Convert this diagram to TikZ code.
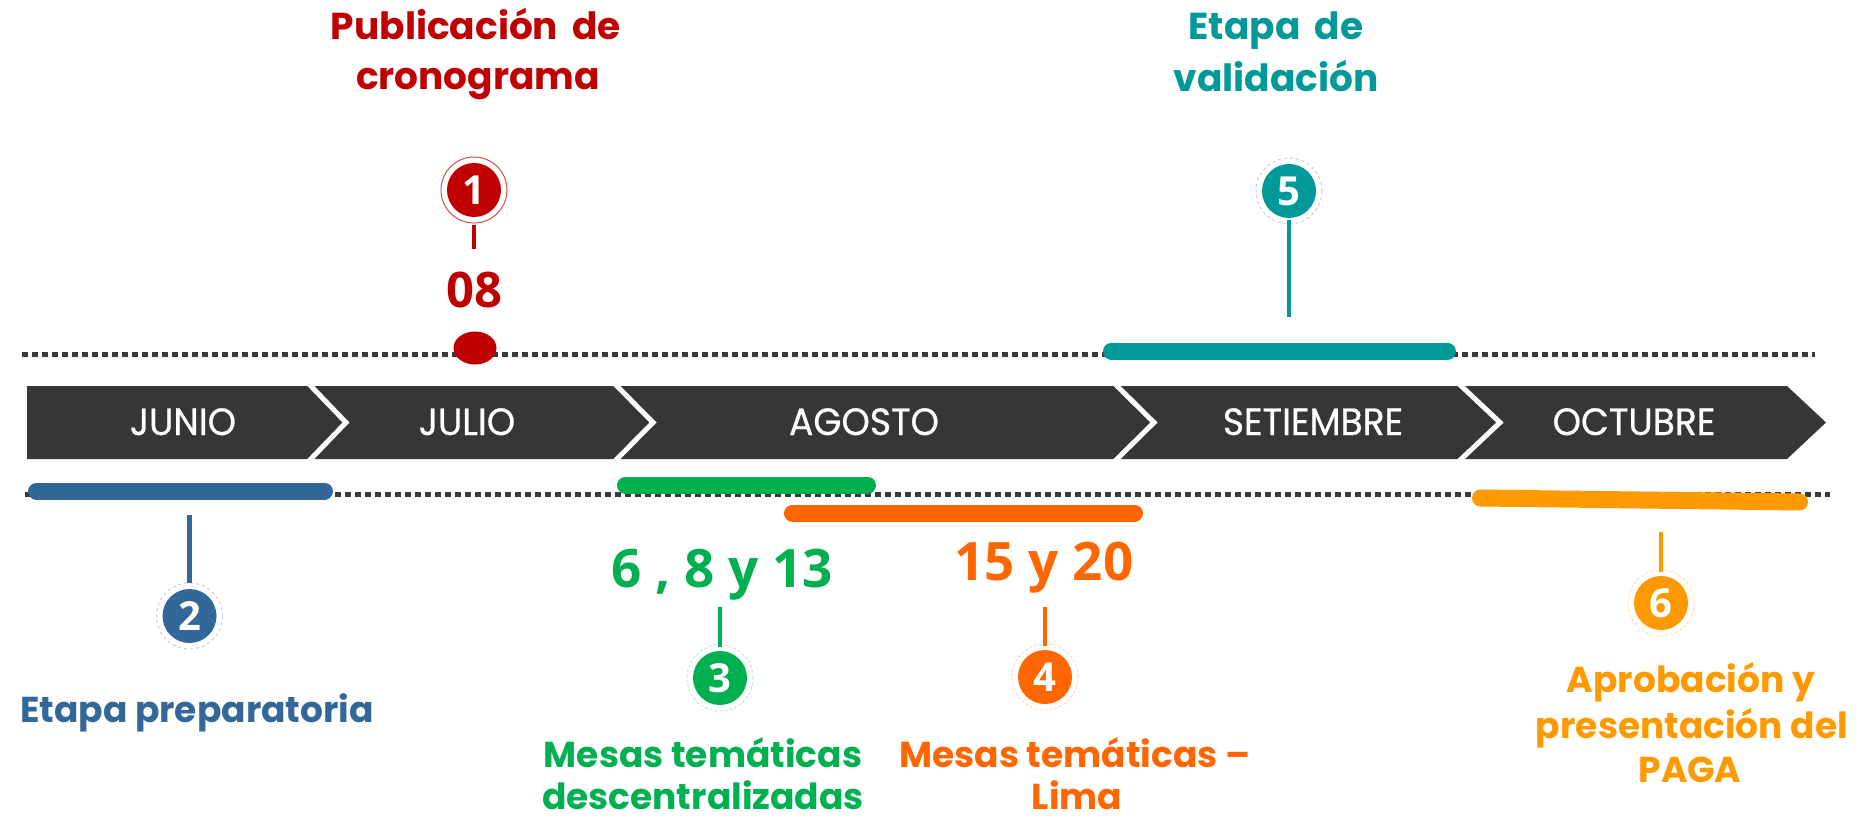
\documentclass[tikz,border=0pt]{standalone}
\usepackage{fontspec}
\setmainfont{Poppins}
\newfontfamily\numfont{Open Sans}
\newfontfamily\topfont[WordSpace=1.8]{Poppins}
\newfontfamily\monfont[FakeStretch=0.95,FakeBold=0.6]{Poppins}
\usetikzlibrary{shapes.geometric}
\definecolor{redC}{HTML}{C00000}
\definecolor{blueC}{HTML}{336699}
\definecolor{greenC}{HTML}{00B050}
\definecolor{orangeC}{HTML}{FF6600}
\definecolor{goldC}{HTML}{FF9900}
\definecolor{tealC}{HTML}{009999}
\definecolor{bandC}{HTML}{363638}
\definecolor{dotC}{HTML}{3A3A3A}
\tikzset{
  lab/.style={anchor=base, inner sep=0pt, font=\bfseries\fontsize{36}{40}\selectfont},
  toplab/.style={anchor=base, inner sep=0pt, font=\topfont\bfseries\fontsize{37.5}{40}\selectfont},
  num/.style={anchor=base, inner sep=0pt, font=\numfont\bfseries\fontsize{53}{53}\selectfont},
  mon/.style={anchor=base, inner sep=0pt, text=white, font=\monfont\fontsize{38}{38}\selectfont},
  numcirc/.style={circle, minimum size=54pt, inner sep=0pt, text=white, font=\numfont\bfseries\fontsize{40}{40}\selectfont},
  ring/.style={line width=1pt},
  conn/.style={line width=4.5pt},
  bar/.style={line width=17pt, line cap=round},
  dotline/.style={line width=5pt, dotC, dash pattern=on 6pt off 4pt},
  sepline/.style={white, line width=5pt, miter limit=10}
}
\begin{document}
\begin{tikzpicture}[x=1pt,y=-1pt]
\useasboundingbox (0,0) rectangle (1860,818);
% dotted guide lines
\coordinate (dA) at (22,354);
\coordinate (dB) at (1815,354);
\coordinate (dC) at (25,494);
\coordinate (dD) at (1830,494);
\draw[dotline] (dA) -- (dB);
\draw[dotline] (dC) -- (dD);
% month band
\fill[bandC] (27,386) -- (1787,386) -- (1826,422.5) -- (1787,459) -- (27,459) -- cycle;
\draw[sepline] (307,382) -- (346,422.5) -- (307,463);
\draw[sepline] (613,382) -- (653,422.5) -- (613,463);
\draw[sepline] (1113,382) -- (1154,422.5) -- (1113,463);
\draw[sepline] (1457,382) -- (1500,422.5) -- (1457,463);
\node[mon] (m1) at (183,435) {JUNIO};
\node[mon] (m2) at (467,435) {JULIO};
\node[mon] (m3) at (864,435) {AGOSTO};
\node[mon] (m4) at (1313,435) {SETIEMBRE};
\node[mon] (m5) at (1634,435) {OCTUBRE};
% bars
\draw[bar, blueC] (36.5,491) -- (324.5,491);
\draw[bar, greenC] (625.5,485) -- (867.5,485);
\draw[bar, orangeC] (792.5,513) -- (1134.5,513);
\draw[bar, tealC] (1111.5,351) -- (1447.5,351);
\draw[bar, goldC] (1480.5,498) -- (1799.5,502);
% red marker
\node[ellipse, fill=redC, minimum width=43pt, minimum height=33pt, inner sep=0pt] (d1) at (475,348) {};
% circles
\node[numcirc, fill=redC] (c1) at (474,190) {1};
\node[numcirc, fill=blueC] (c2) at (189.5,616) {2};
\node[numcirc, fill=greenC] (c3) at (720,678) {3};
\node[numcirc, fill=orangeC] (c4) at (1045,677) {4};
\node[numcirc, fill=tealC] (c5) at (1289,191) {5};
\node[numcirc, fill=goldC] (c6) at (1661,603) {6};
\draw[ring, redC!70] (c1) circle (33pt);
\draw[ring, blueC!30, dashed] (c2) circle (33pt);
\draw[ring, greenC!25, densely dashed] (c3) circle (33pt);
\draw[ring, orangeC!25, densely dashed] (c4) circle (33pt);
\draw[ring, blueC!30, dashed] (c5) circle (33pt);
\draw[ring, goldC!30, densely dashed] (c6) circle (33pt);
% texts
\node[toplab, text=redC] (t1a) at (476,40) {Publicación de};
\node[toplab, text=redC] (t1b) at (478,90) {cronograma};
\node[num, text=redC, font=\numfont\bfseries\fontsize{49}{49}\selectfont] (n1) at (474,307) {08};
\node[toplab, text=tealC] (t5a) at (1276,40) {Etapa de};
\node[toplab, text=tealC] (t5b) at (1276,92) {validación};
\node[lab, text=blueC] (t2) at (197,722) {Etapa preparatoria};
\node[num, text=greenC] (n3) at (722,587) {6 , 8 y 13};
\node[num, text=orangeC] (n4) at (1044,580) {15 y 20};
\node[lab, text=greenC] (t3a) at (703,767) {Mesas temáticas};
\node[lab, text=greenC] (t3b) at (703,809) {descentralizadas};
\node[lab, text=orangeC] (t4a) at (1075,767) {Mesas temáticas –};
\node[lab, text=orangeC] (t4b) at (1077,809) {Lima};
\node[lab, text=goldC] (t6a) at (1691,692) {Aprobación y};
\node[lab, text=goldC] (t6b) at (1692,738) {presentación del};
\node[lab, text=goldC] (t6c) at (1690,782) {PAGA};
% connectors
\coordinate (e5) at (1289,317);
\coordinate (e2) at (189.5,515);
\coordinate (e3) at (720,607);
\coordinate (e4) at (1045,607);
\coordinate (e6) at (1661,532);
\draw[conn, redC] ([yshift=-8pt]c1.south) -- (474,249);
\draw[conn, tealC] ([yshift=-2pt]c5.south) -- (e5);
\draw[conn, blueC] ([yshift=6pt]c2.north) -- (e2);
\draw[conn, greenC] ([yshift=4pt]c3.north) -- (e3);
\draw[conn, orangeC] ([yshift=4pt]c4.north) -- (e4);
\draw[conn, goldC] ([yshift=4pt]c6.north) -- (e6);
\end{tikzpicture}
\end{document}
